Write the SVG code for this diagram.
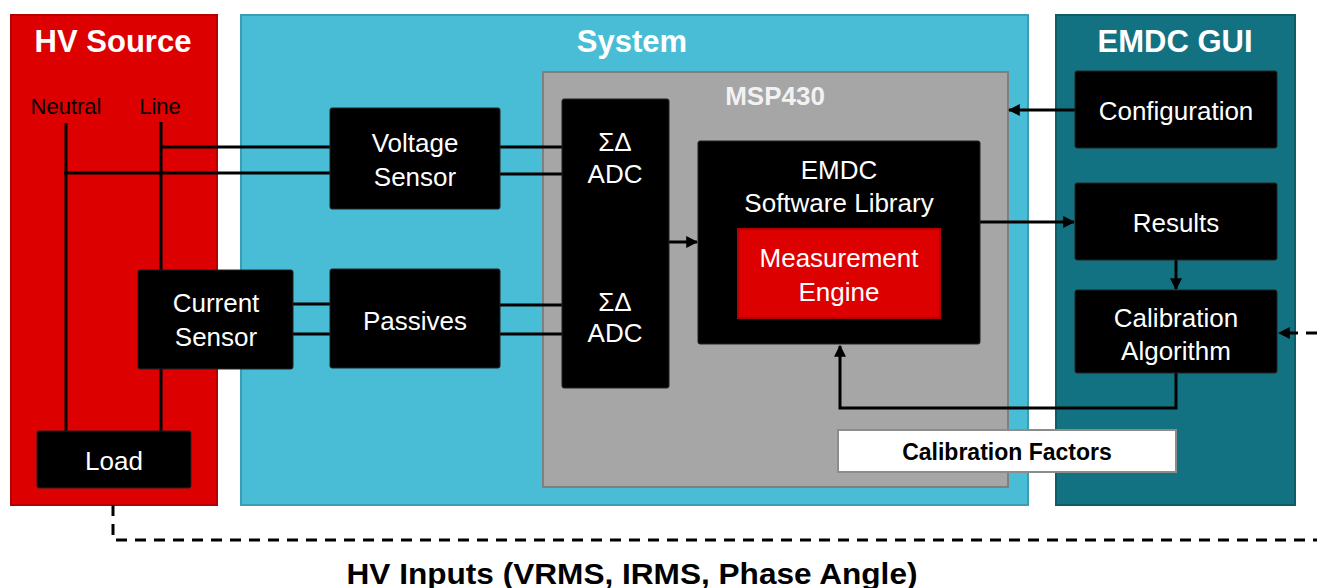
<svg xmlns="http://www.w3.org/2000/svg" width="1317" height="588" viewBox="0 0 1317 588">
<defs>
<marker id="ah" viewBox="0 0 10 10" refX="9" refY="5" markerWidth="4" markerHeight="4" orient="auto" markerUnits="strokeWidth"><path d="M0,0 L10,5 L0,10 z" fill="#000"/></marker>
<style>
.blk{fill:#000;stroke:#222;stroke-width:1}
.wt{fill:#fff;font-family:"Liberation Sans",Arial,sans-serif;font-size:26px;text-anchor:middle}
.ttl{fill:#fff;font-family:"Liberation Sans",Arial,sans-serif;font-size:31px;font-weight:bold;text-anchor:middle}
.lbl{fill:#000;font-family:"Liberation Sans",Arial,sans-serif;font-size:22px;text-anchor:middle}
.ln{fill:none;stroke:#000;stroke-width:3}
.dash{fill:none;stroke:#000;stroke-width:3;stroke-dasharray:11 8}
</style>
</defs>
<rect width="1317" height="588" fill="#fff"/>
<g id="hv-source">
<rect x="11" y="15" width="206" height="490" fill="#dd0000" stroke="#b30000" stroke-width="2"/>
<text class="ttl" x="113" y="52">HV Source</text>
<text class="lbl" x="66" y="114">Neutral</text>
<text class="lbl" x="160" y="114">Line</text>
</g>
<g id="system">
<rect x="241" y="15" width="787" height="490" fill="#4abdd6" stroke="#3a9db3" stroke-width="2"/>
<text class="ttl" x="632" y="52">System</text>
</g>
<g id="emdc-gui">
<rect x="1056" y="15" width="239" height="490" fill="#137282" stroke="#0e5c68" stroke-width="2"/>
<text class="ttl" x="1175" y="52">EMDC GUI</text>
</g>
<g id="msp430">
<rect x="543" y="72" width="465" height="415" fill="#a6a6a6" stroke="#7f7f7f" stroke-width="2"/>
<text x="775" y="105" fill="#f2f2f2" font-family="'Liberation Sans',Arial,sans-serif" font-size="26" font-weight="bold" text-anchor="middle">MSP430</text>
</g>
<g id="connectors">
<path class="ln" d="M66,123 V431"/>
<path class="ln" d="M161,122 V270"/>
<path class="ln" d="M161,369 V431"/>
<path class="ln" d="M161,147 H330"/>
<path class="ln" d="M64,173 H330"/>
<path class="ln" d="M500,147 H563"/>
<path class="ln" d="M500,174 H563"/>
<path class="ln" d="M293,304 H330"/>
<path class="ln" d="M293,334 H330"/>
<path class="ln" d="M500,305 H563"/>
<path class="ln" d="M500,334 H563"/>
<path class="ln" d="M669,242 H697" marker-end="url(#ah)"/>
<path class="ln" d="M980,222 H1074" marker-end="url(#ah)"/>
<path class="ln" d="M1075,110 H1009" marker-end="url(#ah)"/>
<path class="ln" d="M1176,260 V289" marker-end="url(#ah)"/>
<path class="ln" d="M1176,373 V408 H840 V346" marker-end="url(#ah)"/>
<path class="dash" d="M113,505 V540 H1317"/>
<path class="dash" d="M1317,333 H1279" marker-end="url(#ah)"/>
</g>
<g id="voltage-sensor">
<rect class="blk" x="330" y="108" width="170" height="101" rx="2"/>
<text class="wt" x="415" y="152">Voltage</text>
<text class="wt" x="415" y="186">Sensor</text>
</g>
<g id="current-sensor">
<rect class="blk" x="138" y="270" width="155" height="99" rx="2"/>
<text class="wt" x="216" y="312">Current</text>
<text class="wt" x="216" y="346">Sensor</text>
</g>
<g id="passives">
<rect class="blk" x="330" y="269" width="170" height="99" rx="2"/>
<text class="wt" x="415" y="330">Passives</text>
</g>
<g id="load">
<rect class="blk" x="37" y="431" width="154" height="57" rx="2"/>
<text class="wt" x="114" y="470">Load</text>
</g>
<g id="adc">
<rect class="blk" x="562" y="99" width="107" height="289" rx="2"/>
<text class="wt" x="615" y="151">ΣΔ</text>
<text class="wt" x="615" y="183">ADC</text>
<text class="wt" x="615" y="311">ΣΔ</text>
<text class="wt" x="615" y="342">ADC</text>
</g>
<g id="emdc-library">
<rect class="blk" x="698" y="141" width="282" height="203" rx="2"/>
<text class="wt" x="839" y="179">EMDC</text>
<text class="wt" x="839" y="212">Software Library</text>
</g>
<g id="measurement-engine">
<rect x="738" y="229" width="202" height="89" fill="#dd0000" stroke="#b30000" stroke-width="2"/>
<text class="wt" x="839" y="267">Measurement</text>
<text class="wt" x="839" y="301">Engine</text>
</g>
<g id="configuration">
<rect class="blk" x="1075" y="71" width="202" height="77" rx="2"/>
<text class="wt" x="1176" y="120">Configuration</text>
</g>
<g id="results">
<rect class="blk" x="1075" y="183" width="202" height="77" rx="2"/>
<text class="wt" x="1176" y="232">Results</text>
</g>
<g id="calibration-algorithm">
<rect class="blk" x="1075" y="290" width="202" height="83" rx="2"/>
<text class="wt" x="1176" y="327">Calibration</text>
<text class="wt" x="1176" y="360">Algorithm</text>
</g>
<g id="calibration-factors">
<rect x="838" y="430" width="338" height="42" fill="#fff" stroke="#8c8c8c" stroke-width="2"/>
<text x="1007" y="460" fill="#000" font-family="'Liberation Sans',Arial,sans-serif" font-size="23" font-weight="bold" text-anchor="middle">Calibration Factors</text>
</g>
<g id="hv-inputs-label">
<text x="632" y="584" fill="#000" font-family="'Liberation Sans',Arial,sans-serif" font-size="30" font-weight="bold" text-anchor="middle" textLength="571" lengthAdjust="spacingAndGlyphs">HV Inputs (VRMS, IRMS, Phase Angle)</text>
</g>
</svg>
